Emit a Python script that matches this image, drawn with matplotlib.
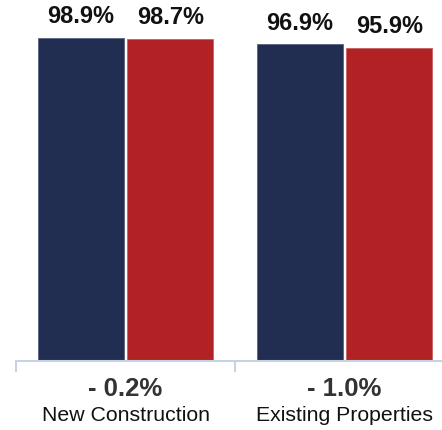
import matplotlib.pyplot as plt
import numpy as np

plt.rcParams['font.family'] = ['Liberation Sans', 'DejaVu Sans']

categories = ['New Construction', 'Existing Properties']
changes = ['- 0.2%', '- 1.0%']
series_a = [98.9, 96.9]
series_b = [98.7, 95.9]

navy = '#222d52'
red = '#b22225'
axis_col = '#c8d2e6'

fig = plt.figure(figsize=(4.42, 4.30), dpi=100)
ax = fig.add_axes([16/442, 69/430, 426/442, 361/430])

x = np.arange(len(categories))
w = 0.393
off = 0.205
b1 = ax.bar(x - off, series_a, w, color=navy, edgecolor='#5a6280', linewidth=0.6)
b2 = ax.bar(x + off, series_b, w, color=red, edgecolor='#c86060', linewidth=0.6)

for bars, vals in ((b1, series_a), (b2, series_b)):
    for r, v in zip(bars, vals):
        ax.annotate(f'{v}%', (r.get_x() + r.get_width()/2, v), xytext=(0, 7),
                    textcoords='offset points', ha='center', va='bottom',
                    fontsize=17, fontweight='bold', color='#111111')

ax.set_xlim(-0.5, 1.445)
ax.set_ylim(0, 110.5)
for s in ['top', 'right', 'left']:
    ax.spines[s].set_visible(False)
ax.spines['bottom'].set_color(axis_col)
ax.spines['bottom'].set_linewidth(1.5)
ax.set_yticks([])
ax.set_xticks([-0.5, 0.5])
ax.set_xticklabels([])
ax.tick_params(axis='x', length=8, width=1.5, color=axis_col)

trans = ax.get_xaxis_transform()
for i in range(len(categories)):
    ax.text(i, -0.078, changes[i], transform=trans, ha='center', va='center',
            fontsize=18.5, fontweight='bold', color='#333333', clip_on=False)
    ax.text(i, -0.152, categories[i], transform=trans, ha='center', va='center',
            fontsize=15.3, color='#111111', clip_on=False)

fig.savefig('out.png', dpi=100)
